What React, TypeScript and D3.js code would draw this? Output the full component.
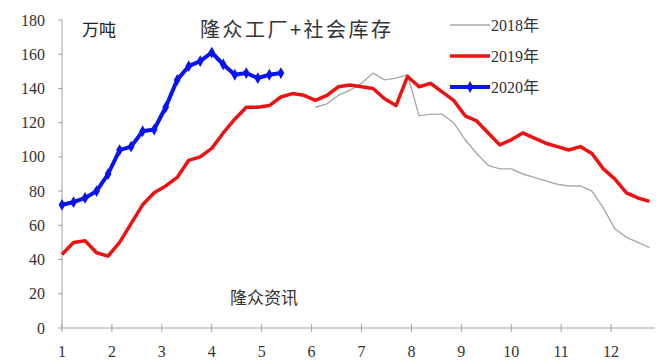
import * as d3 from "d3";

// weekly inventory, 万吨 (week 0 = start of January)
const weeks2019 = [
  43, 50, 51, 44, 42, 50, 61, 72, 79, 83, 88, 98, 100, 105, 114, 122, 129, 129, 130, 135,
  137, 136, 133, 136, 141, 142, 141, 140, 134, 130, 147, 141, 143, 138, 133, 124, 121, 114,
  107, 110, 114, 111, 108, 106, 104, 106, 102, 93, 87, 79, 76, 74,
];
const start2018 = 22;
const weeks2018 = [
  129, 131, 136, 139, 143, 149, 145, 146, 148, 124, 125, 125, 120, 110, 102, 95, 93, 93, 90,
  88, 86, 84, 83, 83, 80, 70, 58, 53, 50, 47,
];
const weeks2020 = [
  72, 73.5, 76, 80, 90, 104, 106, 115, 116, 129, 145, 153, 156, 161, 154, 148, 149, 146, 148, 149,
];

const monthTicks = [1, 2, 3, 4, 5, 6, 7, 8, 9, 10, 11, 12];
const yTicks = [0, 20, 40, 60, 80, 100, 120, 140, 160, 180];
const legendItems = [
  { name: "2018年", color: "#a2ad9f", width: 1.4, marker: false },
  { name: "2019年", color: "#ee1111", width: 3.5, marker: false },
  { name: "2020年", color: "#0a14f0", width: 4, marker: true },
];

const W = 659;
const H = 361;
const serif = "'Liberation Serif', 'Times New Roman', 'Noto Sans CJK SC', serif";
const cjk = "'Noto Sans CJK SC', sans-serif";

export default function App() {
  const x = d3.scaleLinear().domain([1, 12.88]).range([62, 655]);
  const y = d3.scaleLinear().domain([0, 180]).range([328, 20]);
  const weekX = (i: number) => x(1 + (i * 12) / 52);

  const line = d3
    .line<[number, number]>()
    .x((d) => weekX(d[0]))
    .y((d) => y(d[1]));

  const pts2019 = weeks2019.map((v, i) => [i, v] as [number, number]);
  const pts2018 = weeks2018.map((v, i) => [i + start2018, v] as [number, number]);
  const pts2020 = weeks2020.map((v, i) => [i, v] as [number, number]);

  const diamond = d3.symbol(d3.symbolDiamond, 40)();

  return (
    <svg width={W} height={H} style={{ position: "absolute", left: 0, top: 0, background: "#fff" }}>
      {/* axes */}
      <line x1={x(1)} x2={x(1)} y1={y(180)} y2={y(0)} stroke="#a0a0a0" strokeWidth={1} />
      <line x1={x(1)} x2={x(12.88)} y1={y(0)} y2={y(0)} stroke="#a0a0a0" strokeWidth={1} />
      {yTicks.map((t) => (
        <g key={t}>
          <line x1={x(1) - 4} x2={x(1)} y1={y(t)} y2={y(t)} stroke="#a0a0a0" />
          <text x={45} y={y(t)} dy="0.35em" textAnchor="end" fontSize={16} fontFamily={serif} fill="#333">
            {t}
          </text>
        </g>
      ))}
      {monthTicks.map((m) => (
        <g key={m}>
          <line x1={x(m)} x2={x(m)} y1={y(0) - 4} y2={y(0) + 4} stroke="#a0a0a0" />
          <text x={x(m)} y={351} dy="0.35em" textAnchor="middle" fontSize={16} fontFamily={serif} fill="#333">
            {m}
          </text>
        </g>
      ))}

      {/* series */}
      <path d={line(pts2018) || ""} fill="none" stroke={legendItems[0].color} strokeWidth={legendItems[0].width} />
      <path d={line(pts2019) || ""} fill="none" stroke={legendItems[1].color} strokeWidth={legendItems[1].width} strokeLinejoin="round" />
      <path d={line(pts2020) || ""} fill="none" stroke={legendItems[2].color} strokeWidth={legendItems[2].width} strokeLinejoin="round" />
      {pts2020.map((d) => (
        <path key={d[0]} d={diamond || ""} transform={`translate(${weekX(d[0])},${y(d[1])})`} fill={legendItems[2].color} />
      ))}

      {/* text */}
      <text x={82} y={30} dy="0.35em" fontSize={17} fontFamily={cjk} fill="#222">万吨</text>
      <text x={200} y={30} dy="0.35em" fontSize={20} letterSpacing={2.5} fontFamily={cjk} fill="#333">
        隆众工厂+社会库存
      </text>
      <text x={230} y={298} dy="0.35em" fontSize={17} fontFamily={cjk} fill="#333">隆众资讯</text>

      {/* legend */}
      {legendItems.map((it, i) => {
        const ly = 25 + i * 31;
        return (
          <g key={it.name}>
            <line x1={450} x2={490} y1={ly} y2={ly} stroke={it.color} strokeWidth={it.width} />
            {it.marker && <path d={diamond || ""} transform={`translate(470,${ly})`} fill={it.color} />}
            <text x={491} y={ly} dy="0.35em" fontSize={16} fontFamily={serif} fill="#333">
              {it.name}
            </text>
          </g>
        );
      })}
    </svg>
  );
}
